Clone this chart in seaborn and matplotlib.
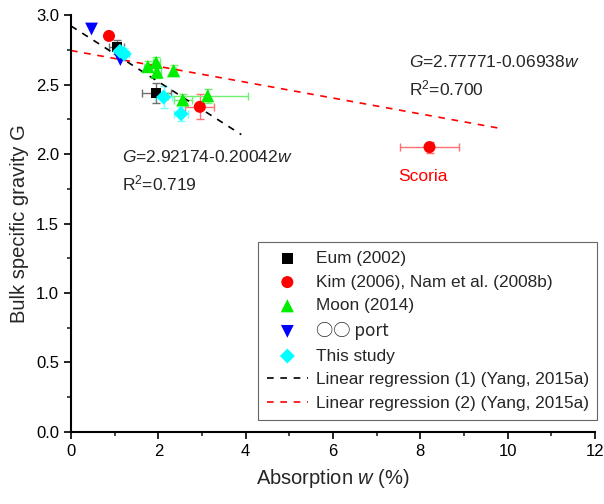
import matplotlib
matplotlib.use("Agg")
import matplotlib.pyplot as plt
import seaborn as sns
import numpy as np
import pandas as pd

# ---- data ----
eum_x = [1.05, 1.95]
eum_y = [2.77, 2.44]
eum_xerr = [0.17, 0.33]
eum_yerr = [0.05, 0.07]

kim_x = [0.87, 2.95, 8.21]
kim_y = [2.85, 2.34, 2.05]
kim_xerr = [0.0, 0.33, 0.68]
kim_yerr = [0.0, 0.09, 0.04]

moon_x = [1.76, 1.95, 1.97, 2.35, 2.56, 3.13]
moon_y = [2.63, 2.66, 2.59, 2.60, 2.39, 2.42]
moon_xerr = [0.08, 0.08, 0.08, 0.06, 0.20, 0.92]
moon_yerr = [0.04, 0.04, 0.04, 0.04, 0.04, 0.05]

port_x = [0.47, 1.13]
port_y = [2.90, 2.68]

study_x = [1.12, 1.22, 2.12, 2.52]
study_y = [2.74, 2.72, 2.41, 2.29]
study_xerr = [0.10, 0.10, 0.19, 0.17]
study_yerr = [0.04, 0.04, 0.08, 0.05]

# regression lines as drawn: (intercept, slope, x range)
reg1_coef = (2.92174, -0.20042)
reg1_x = [0.0, 3.9]
reg2_coef = (2.745, -0.057)
reg2_x = [0.0, 9.9]

x_ticks = [0, 2, 4, 6, 8, 10, 12]
y_ticks = [0.0, 0.5, 1.0, 1.5, 2.0, 2.5, 3.0]

# ---- style ----
sns.set_style("ticks")
plt.rcParams['font.family'] = ['Liberation Sans', 'Noto Sans CJK KR', 'DejaVu Sans']
plt.rcParams['mathtext.fontset'] = 'custom'
plt.rcParams['mathtext.rm'] = 'Liberation Sans'
plt.rcParams['mathtext.it'] = 'Liberation Sans:italic'

fig = plt.figure(figsize=(6.04, 5.04), dpi=100)
ax = fig.add_axes([71 / 604, 0.143, (595 - 71) / 604, 0.827])

def errs(x, y, xe, ye, col):
    ax.errorbar(x, y, xerr=xe, yerr=ye, fmt='none', ecolor=col,
                elinewidth=1.0, capsize=3, capthick=1.0, zorder=2)

errs(eum_x, eum_y, eum_xerr, eum_yerr, '#707070')
errs(kim_x, kim_y, kim_xerr, kim_yerr, '#ff7070')
errs(moon_x, moon_y, moon_xerr, moon_yerr, '#70f070')
errs(study_x, study_y, study_xerr, study_yerr, '#70ffff')

sns.scatterplot(x=eum_x, y=eum_y, marker='s', color='black', s=58,
                edgecolor='none', label='Eum (2002)', ax=ax, zorder=3)
sns.scatterplot(x=kim_x, y=kim_y, marker='o', color='red', s=75,
                edgecolor='none', label='Kim (2006), Nam et al. (2008b)', ax=ax, zorder=3)
sns.scatterplot(x=moon_x, y=moon_y, marker='^', color='#00ee00', s=90,
                edgecolor='none', label='Moon (2014)', ax=ax, zorder=3)
sns.scatterplot(x=port_x, y=port_y, marker='v', color='blue', s=85,
                edgecolor='none', label='\u25cb\u25cb port', ax=ax, zorder=3)
sns.scatterplot(x=study_x, y=study_y, marker='D', color='cyan', s=58,
                edgecolor='none', label='This study', ax=ax, zorder=3)

r1x = np.array(reg1_x)
r2x = np.array(reg2_x)
sns.lineplot(x=r1x, y=reg1_coef[0] + reg1_coef[1] * r1x, color='black',
             linestyle=(0, (4, 4)), linewidth=1.2,
             label='Linear regression (1) (Yang, 2015a)', ax=ax, zorder=2)
sns.lineplot(x=r2x, y=reg2_coef[0] + reg2_coef[1] * r2x, color='red',
             linestyle=(0, (4, 4)), linewidth=1.2,
             label='Linear regression (2) (Yang, 2015a)', ax=ax, zorder=2)

# annotations
fs = 12.5
ax.text(7.74, 2.66, '$G$=2.77771-0.06938$w$', fontsize=fs, va='center', ha='left')
ax.text(7.74, 2.47, 'R$^2$=0.700', fontsize=fs, va='center', ha='left')
ax.text(1.16, 1.98, '$G$=2.92174-0.20042$w$', fontsize=fs, va='center', ha='left')
ax.text(1.16, 1.79, 'R$^2$=0.719', fontsize=fs, va='center', ha='left')
ax.text(7.49, 1.84, 'Scoria', fontsize=fs, va='center', ha='left', color='red')

ax.set_xlim(0, 12)
ax.set_ylim(0, 3.0)
ax.set_xticks(x_ticks)
ax.set_yticks(y_ticks)
ax.set_xticklabels([str(t) for t in x_ticks])
ax.set_yticklabels([f'{t:.1f}' for t in y_ticks])
ax.xaxis.set_minor_locator(matplotlib.ticker.MultipleLocator(1))
ax.yaxis.set_minor_locator(matplotlib.ticker.MultipleLocator(0.25))
ax.tick_params(which='major', length=5, width=1.2, labelsize=12, colors='black')
ax.tick_params(which='minor', length=3, width=1.2)
for side in ['top', 'right']:
    ax.spines[side].set_visible(False)
for side in ['left', 'bottom']:
    ax.spines[side].set_linewidth(1.5)
    ax.spines[side].set_color('black')

ax.set_xlabel('Absorption $w$ (%)', fontsize=14.5, labelpad=6)
ax.set_ylabel('Bulk specific gravity G', fontsize=14.5, labelpad=5)

leg = ax.legend(loc='upper left', bbox_to_anchor=(0.357, 0.455), fontsize=12.4,
                frameon=True, fancybox=False, edgecolor='#404040',
                handlelength=2.4, handletextpad=0.45, labelspacing=0.5,
                borderpad=0.5, borderaxespad=0)
leg.get_frame().set_linewidth(0.8)
leg.get_texts()[3].set_family(['Noto Sans CJK KR', 'DejaVu Sans'])

fig.savefig('out.png', dpi=100)
